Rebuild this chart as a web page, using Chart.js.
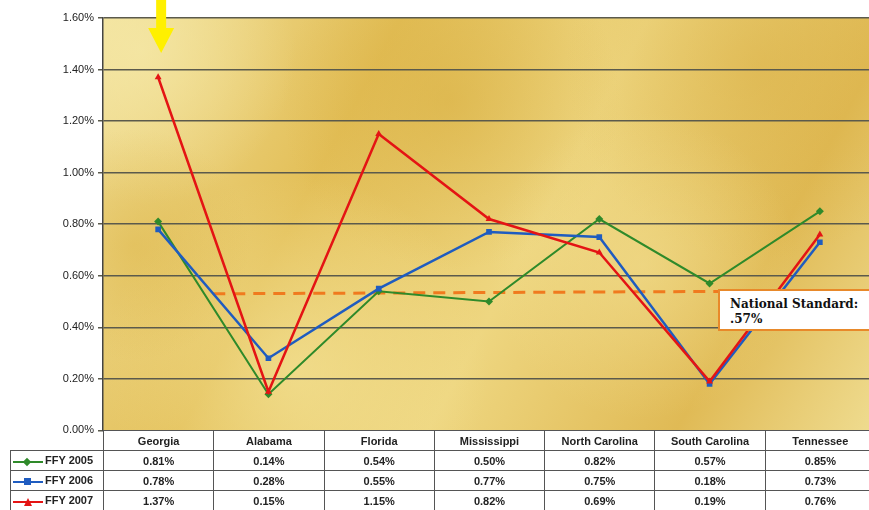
<!DOCTYPE html>
<html lang="en">
<head>
  <meta charset="UTF-8" />
  <title>FFY 2005-2007</title>
  <script src="https://cdn.jsdelivr.net/npm/chart.js"></script>
  <style>
    body { margin: 0; background: #fff; font-family: 'Liberation Sans', Arial, sans-serif; }
    #wrap { position: relative; width: 869px; height: 510px; overflow: hidden; }
    #chartBox { position: absolute; left: 0; top: 0; width: 879px; height: 441px; }
    table {
      position: absolute; left: 10px; top: 430px;
      border-collapse: collapse; table-layout: fixed; width: 866px;
      font-size: 11px; font-weight: bold; color: #222;
    }
    td, th { border: 1px solid #555; height: 19px; padding: 0; text-align: center; white-space: nowrap; overflow: hidden; background: #fff; }
    th.blank { border: none; border-right: 1px solid #555; background: transparent; }
    td.leg { text-align: left; padding-left: 2px; }
    .mk { display: inline-block; position: relative; width: 30px; height: 10px; vertical-align: middle; margin-right: 2px; }
    .mk i { position: absolute; left: 0; right: 0; top: 4px; height: 2px; }
    .mk b { position: absolute; left: 11px; top: 1px; width: 7px; height: 7px; }
    #note {
      position: absolute; left: 718px; top: 289px; width: 160px; height: 42px;
      background: #fff; border: 2px solid #e8892a; box-sizing: border-box;
      font-family: 'DejaVu Serif', serif; font-weight: bold; font-size: 12px;
      line-height: 15px; padding: 6px 0 0 10px; color: #111;
    }
  </style>
</head>
<body>
<div id="wrap">
  <div id="chartBox"><canvas id="chart"></canvas></div>
  <div id="note">National Standard:<br>.57%</div>
  <table id="tbl"></table>
</div>

<script>
  const states = ['Georgia', 'Alabama', 'Florida', 'Mississippi', 'North Carolina', 'South Carolina', 'Tennessee'];
  const ffy2005 = [0.81, 0.14, 0.54, 0.50, 0.82, 0.57, 0.85];
  const ffy2006 = [0.78, 0.28, 0.55, 0.77, 0.75, 0.18, 0.73];
  const ffy2007 = [1.37, 0.15, 1.15, 0.82, 0.69, 0.19, 0.76];
  // national standard dashed line, as drawn (from Alabama column edge to under the note box)
  const standardX = [0.5, 5.5];
  const standardY = [0.53, 0.54];
  const yTicks = [0, 0.2, 0.4, 0.6, 0.8, 1.0, 1.2, 1.4, 1.6];

  const series = [
    { label: 'FFY 2005', data: ffy2005, color: '#2f8a2a', style: 'rectRot', r: 4 },
    { label: 'FFY 2006', data: ffy2006, color: '#1f5cc0', style: 'rect', r: 4 },
    { label: 'FFY 2007', data: ffy2007, color: '#e41414', style: 'triangle', r: 4 }
  ];

  // golden backdrop inside plot area
  const backdrop = {
    id: 'backdrop',
    beforeDraw(chart) {
      const { ctx, chartArea: a } = chart;
      const w = a.right - a.left, h = a.bottom - a.top;
      ctx.save();
      let g = ctx.createLinearGradient(a.left, a.top, a.right, a.bottom);
      g.addColorStop(0, '#f1e09a');
      g.addColorStop(0.3, '#e3bf58');
      g.addColorStop(0.55, '#eed680');
      g.addColorStop(0.8, '#e0ba55');
      g.addColorStop(1, '#efdc90');
      ctx.fillStyle = g;
      ctx.fillRect(a.left, a.top, w, h);
      const spots = [
        [0.05, 0.08, 0.2, 'rgba(246,234,170,0.7)'],
        [0.45, 0.2, 0.22, 'rgba(212,168,55,0.45)'],
        [0.85, 0.12, 0.25, 'rgba(214,170,60,0.4)'],
        [0.25, 0.85, 0.25, 'rgba(246,232,160,0.6)'],
        [0.7, 0.6, 0.2, 'rgba(244,226,150,0.5)'],
        [0.04, 0.55, 0.15, 'rgba(218,175,60,0.4)']
      ];
      spots.forEach(([x, y, r, c]) => {
        const cx = a.left + x * w, cy = a.top + y * h, rr = r * w;
        const rg = ctx.createRadialGradient(cx, cy, 0, cx, cy, rr);
        rg.addColorStop(0, c);
        rg.addColorStop(1, c.replace(/[\d.]+\)$/, '0)'));
        ctx.fillStyle = rg;
        ctx.fillRect(a.left, a.top, w, h);
      });
      ctx.restore();
    },
    afterDraw(chart) {
      // yellow marker arrow over Georgia
      const { ctx } = chart;
      const x = chart.scales.x.getPixelForValue(0) + 3;
      ctx.save();
      ctx.fillStyle = '#fff000';
      ctx.beginPath();
      ctx.moveTo(x - 5, 0);
      ctx.lineTo(x + 5, 0);
      ctx.lineTo(x + 5, 28);
      ctx.lineTo(x + 13, 28);
      ctx.lineTo(x, 53);
      ctx.lineTo(x - 13, 28);
      ctx.lineTo(x - 5, 28);
      ctx.closePath();
      ctx.fill();
      ctx.restore();
    }
  };

  const datasets = series.map((s, k) => ({
    label: s.label,
    data: s.data.map((v, i) => ({ x: i, y: v })),
    borderColor: s.color,
    backgroundColor: s.color,
    borderWidth: k === 0 ? 2 : 2.5,
    pointStyle: s.style,
    pointRadius: s.r,
    pointBorderWidth: 0,
    tension: 0,
    order: 3 - k
  }));
  datasets.push({
    label: 'National Standard',
    data: standardX.map((x, i) => ({ x: x, y: standardY[i] })),
    borderColor: '#f07a1e',
    borderWidth: 3,
    borderDash: [12, 8],
    pointRadius: 0,
    order: 5
  });

  new Chart(document.getElementById('chart'), {
    type: 'line',
    data: { datasets: datasets },
    options: {
      responsive: true,
      maintainAspectRatio: false,
      animation: false,
      layout: { padding: { top: 18, right: 0, bottom: 0, left: 0 } },
      plugins: { legend: { display: false }, tooltip: { enabled: false } },
      scales: {
        x: { type: 'linear', min: -0.5, max: 6.5, display: false },
        y: {
          min: 0, max: 1.6,
          afterFit(s) { s.width = 103; },
          afterBuildTicks(s) { s.ticks = yTicks.map(v => ({ value: v })); },
          ticks: {
            callback: v => v.toFixed(2) + '%',
            color: '#222',
            font: { family: "'Liberation Sans', Arial, sans-serif", size: 11 },
            padding: 4
          },
          grid: { color: '#5b5a4c', lineWidth: 1.5, tickLength: 5, drawTicks: true },
          border: { color: '#444', width: 1.5 }
        }
      }
    },
    plugins: [backdrop]
  });

  // data table under the chart
  const tbl = document.getElementById('tbl');
  let html = '<colgroup><col style="width:93px">' + states.map(() => '<col>').join('') + '</colgroup>';
  html += '<tr><th class="blank"></th>' + states.map(s => '<th>' + s + '</th>').join('') + '</tr>';
  const markShape = { rectRot: 'transform:rotate(45deg);width:6px;height:6px;top:2px;', rect: '', triangle: 'width:0;height:0;background:none!important;border-left:4px solid transparent;border-right:4px solid transparent;border-bottom:8px solid ' };
  series.forEach(s => {
    let shape = markShape[s.style];
    if (s.style === 'triangle') shape += s.color + ';';
    html += '<tr><td class="leg"><span class="mk"><i style="background:' + s.color + '"></i><b style="background:' + s.color + ';' + shape + '"></b></span>' + s.label + '</td>' +
      s.data.map(v => '<td>' + v.toFixed(2) + '%</td>').join('') + '</tr>';
  });
  tbl.innerHTML = html;
</script>
</body>
</html>
